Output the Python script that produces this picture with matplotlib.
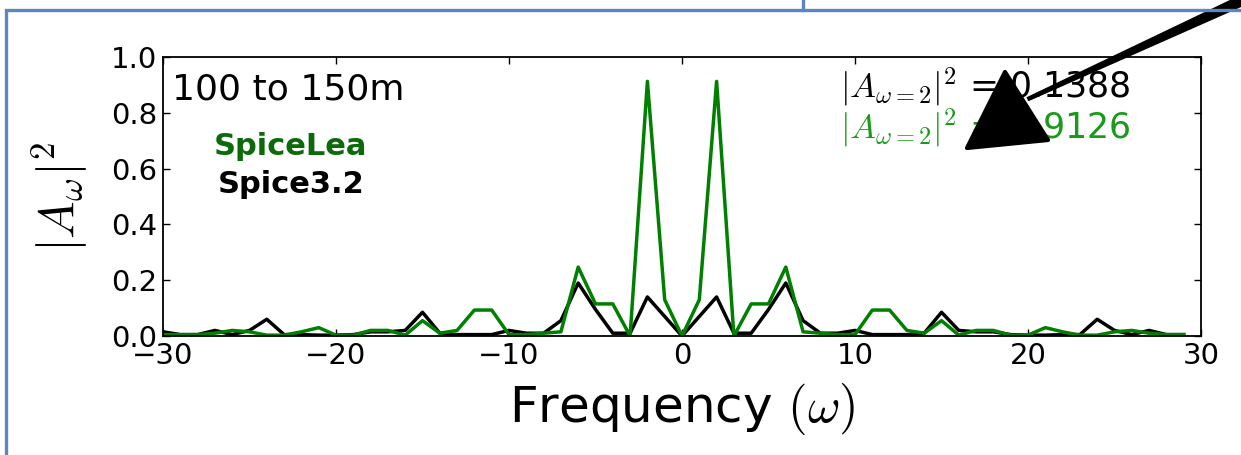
import matplotlib
matplotlib.use("Agg")
import matplotlib.pyplot as plt
from matplotlib.patches import Polygon
import numpy as np

plt.rcParams['mathtext.fontset'] = 'cm'
plt.rcParams['font.family'] = ['DejaVu Sans']

# integer frequencies of a 60-point transform
freq = list(range(-30, 30))

# Spice3.2 (black)
spice32 = [0.015, 0.005, 0.005, 0.02, 0.005, 0.02, 0.06, 0.005, 0.005, 0.003,
           0.003, 0.005, 0.015, 0.015, 0.02, 0.085, 0.01, 0.005, 0.005, 0.005,
           0.02, 0.01, 0.01, 0.055, 0.19, 0.095, 0.01, 0.01, 0.14, 0.07,
           0.0, 0.07, 0.14, 0.01, 0.01, 0.095, 0.19, 0.055, 0.01, 0.01,
           0.02, 0.005, 0.005, 0.005, 0.01, 0.085, 0.02, 0.015, 0.015, 0.005,
           0.003, 0.003, 0.005, 0.005, 0.06, 0.02, 0.005, 0.02, 0.005, 0.005]

# SpiceLea (green)
spicelea = [0.005, 0.005, 0.005, 0.01, 0.02, 0.015, 0.003, 0.003, 0.015, 0.03,
            0.003, 0.003, 0.02, 0.02, 0.003, 0.055, 0.01, 0.02, 0.093, 0.093,
            0.005, 0.005, 0.01, 0.015, 0.247, 0.115, 0.115, 0.0, 0.9126, 0.13,
            0.0, 0.13, 0.9126, 0.0, 0.115, 0.115, 0.247, 0.015, 0.01, 0.005,
            0.005, 0.093, 0.093, 0.02, 0.01, 0.055, 0.003, 0.02, 0.02, 0.003,
            0.003, 0.03, 0.015, 0.003, 0.003, 0.015, 0.02, 0.01, 0.005, 0.005]

xticks = [-30, -20, -10, 0, 10, 20, 30]
yticks = [0.0, 0.2, 0.4, 0.6, 0.8, 1.0]

W, H = 1241, 455
fig = plt.figure(figsize=(W / 100, H / 100), dpi=100)
fig.patch.set_facecolor('white')

# main axes (pixel box 163..1201 x 57..336)
ax = fig.add_axes([163 / W, 1 - 336 / H, (1201 - 163) / W, (336 - 57) / H])
ax.plot(freq, spice32, color='black', lw=2.5)
ax.plot(freq, spicelea, color='#008000', lw=2.5)

ax.set_xlim(-30, 30)
ax.set_ylim(0, 1.0)
ax.set_xticks(xticks)
ax.set_yticks(yticks)
ax.tick_params(direction='in', top=True, right=True, length=5, width=1,
               labelsize=21, pad=4)
for s in ax.spines.values():
    s.set_linewidth(1.3)

ax.set_xlabel(r'Frequency $(\omega)$', fontsize=36, labelpad=8)
ax.set_ylabel(r'$|A_\omega|^2$', fontsize=36)
ax.yaxis.set_label_coords(-0.07, 0.5)

ax.text(0.009, 0.846, '100 to 150m', transform=ax.transAxes, fontsize=26,
        va='baseline', ha='left')
ax.text(0.123, 0.649, 'SpiceLea', transform=ax.transAxes, fontsize=22,
        fontweight='bold', color='#0b6b0b', va='baseline', ha='center')
ax.text(0.123, 0.5125, 'Spice3.2', transform=ax.transAxes, fontsize=22,
        fontweight='bold', color='black', va='baseline', ha='center')

ax.text(0.652, 0.857, r'$|A_{\omega=2}|^2$ = 0.1388', transform=ax.transAxes,
        fontsize=25, color='black', va='baseline', ha='left')
ax.text(0.652, 0.71, r'$|A_{\omega=2}|^2$ = 0.9126', transform=ax.transAxes,
        fontsize=25, color='#1a9a1a', va='baseline', ha='left')

# slide decorations drawn in pixel coords
ov = fig.add_axes([0, 0, 1, 1], zorder=10)
ov.set_xlim(0, W)
ov.set_ylim(H, 0)
ov.axis('off')
ov.patch.set_alpha(0)

blue = '#5b86c2'
ov.plot([6, 6, W], [H, 10, 10], color=blue, lw=2.4, solid_joinstyle='miter')
ov.plot([803, 803], [0, 10], color=blue, lw=2.4)

# hand drawn arrow
ov.add_patch(Polygon([(1240.9, -4.5), (1245.1, 4.5), (1028.6, 100.4), (1027.4, 97.6)],
                     closed=True, facecolor='black', edgecolor='black', lw=1))
ov.add_patch(Polygon([(1005, 72), (967, 148), (1048, 140)], closed=True,
                     facecolor='black', edgecolor='black', lw=3, joinstyle='round'))

fig.savefig('out.png', dpi=100)
